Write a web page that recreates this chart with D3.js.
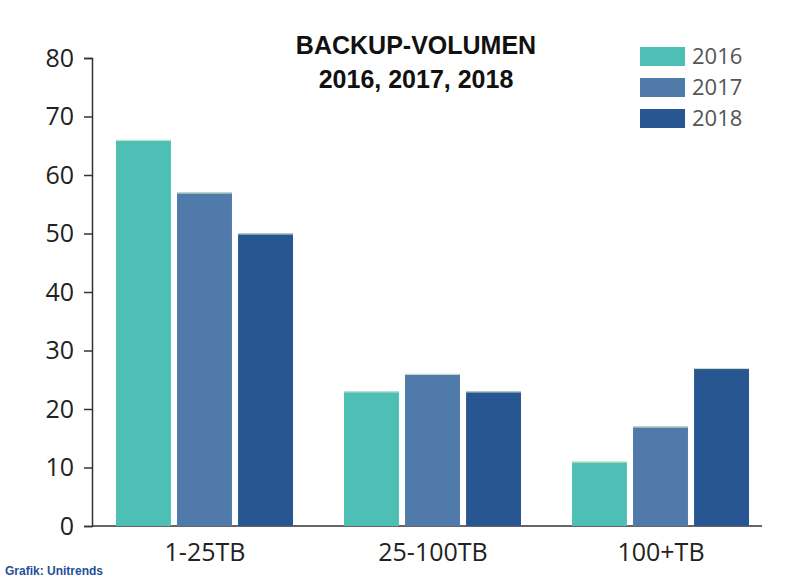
<!DOCTYPE html>
<html><head><meta charset="utf-8">
<script src="https://cdn.jsdelivr.net/npm/d3@7"></script>
<style>body{margin:0;background:#fff}</style>
</head><body>
<svg id="chart" width="800" height="583"></svg>
<script>
const categories = ["1-25TB", "25-100TB", "100+TB"];
const series = ["2016", "2017", "2018"];
const values = {
  "2016": [66, 23, 11],
  "2017": [57, 26, 17],
  "2018": [50, 23, 27]
};
const yTicks = [0, 10, 20, 30, 40, 50, 60, 70, 80];
const colors = ["#4dbfb4", "#4f7aaa", "#285693"];

const svg = d3.select("#chart");
const y = d3.scaleLinear().domain([0, 80]).range([526, 58]);
const x0 = d3.scaleBand().domain(categories).range([90, 774]);
const x1 = d3.scaleBand().domain(series).range([26, 203]).paddingInner(0.1);
const color = d3.scaleOrdinal().domain(series).range(colors);

// y axis
const yAxis = svg.append("g").attr("transform", "translate(92,0)")
  .call(d3.axisLeft(y).tickValues(yTicks).tickSize(8).tickPadding(10));
yAxis.select(".domain").attr("stroke", "#333").attr("stroke-width", 1.5);
yAxis.selectAll(".tick line").attr("stroke", "#333").attr("stroke-width", 1.5);
yAxis.selectAll("text").attr("font-family", "Open Sans, sans-serif")
  .attr("font-size", 25).attr("fill", "#222");

// x baseline
svg.append("line").attr("x1", 92).attr("x2", 762).attr("y1", y(0)).attr("y2", y(0))
  .attr("stroke", "#333").attr("stroke-width", 1.5);

// bars
const groups = svg.selectAll("g.grp").data(categories).join("g")
  .attr("transform", d => `translate(${x0(d)},0)`);
groups.selectAll("rect").data((c, i) => series.map(s => ({ s, v: values[s][i] })))
  .join("rect")
  .attr("x", d => x1(d.s)).attr("width", x1.bandwidth())
  .attr("y", d => y(d.v)).attr("height", d => y(0) - y(d.v))
  .attr("fill", d => color(d.s));
groups.selectAll("line.top").data((c, i) => series.map(s => ({ s, v: values[s][i] })))
  .join("line").attr("class", "top")
  .attr("x1", d => x1(d.s)).attr("x2", d => x1(d.s) + x1.bandwidth())
  .attr("y1", d => y(d.v) + 0.5).attr("y2", d => y(d.v) + 0.5)
  .attr("stroke", "#cfe8c8").attr("stroke-width", 1);

// category labels
svg.selectAll("text.cat").data(categories).join("text")
  .attr("x", d => x0(d) + x0.bandwidth() / 2 + 1).attr("y", 561)
  .attr("text-anchor", "middle").attr("font-family", "Open Sans, sans-serif")
  .attr("font-size", 25).attr("fill", "#222").text(d => d);

// title
svg.append("text").attr("x", 416).attr("y", 54).attr("text-anchor", "middle")
  .attr("font-family", "Liberation Sans, Arial, sans-serif").attr("font-weight", "bold")
  .attr("font-size", 25).attr("fill", "#111").text("BACKUP-VOLUMEN");
svg.append("text").attr("x", 416).attr("y", 88).attr("text-anchor", "middle")
  .attr("font-family", "Liberation Sans, Arial, sans-serif").attr("font-weight", "bold")
  .attr("font-size", 25).attr("fill", "#111").text("2016, 2017, 2018");

// legend
const leg = svg.selectAll("g.leg").data(series).join("g")
  .attr("transform", (d, i) => `translate(640,${47 + i * 31})`);
leg.append("rect").attr("width", 45).attr("height", 19).attr("fill", d => color(d));
leg.append("text").attr("x", 52).attr("y", 17).attr("font-family", "Open Sans, sans-serif")
  .attr("font-size", 22).attr("fill", "#555").text(d => d);

// source
svg.append("text").attr("x", 5).attr("y", 575)
  .attr("font-family", "Liberation Sans, Arial, sans-serif").attr("font-weight", "bold")
  .attr("font-size", 12).attr("fill", "#1f4e9a").text("Grafik: Unitrends");
</script>
</body></html>
